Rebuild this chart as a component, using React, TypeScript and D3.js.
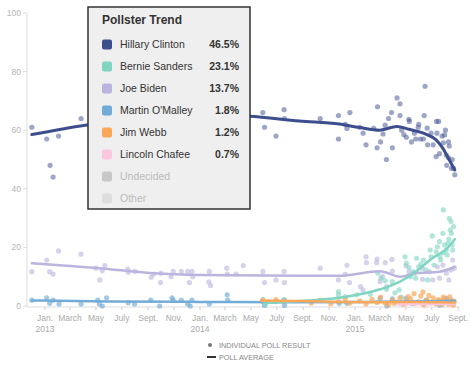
import * as d3 from 'd3';

const width = 470;
const height = 365;

type Pt = [string, number];

// legend rows
const candidates = ['Hillary Clinton', 'Bernie Sanders', 'Joe Biden', "Martin O'Malley", 'Jim Webb', 'Lincoln Chafee', 'Undecided', 'Other'];
const shares = ['46.5%', '23.1%', '13.7%', '1.8%', '1.2%', '0.7%', '', ''];
const colors = ['#3c4e8d', '#7fd5c1', '#bab4de', '#72abd6', '#f9a85a', '#fbc7df', '#c8c8c8', '#dedede'];

const monthLabels = ['Jan.', 'March', 'May', 'July', 'Sept.', 'Nov.'];
const yearLabels = ['2013', '2014', '2015'];
const yTicks = [0, 20, 40, 60, 80, 100];

const clintonPolls: Pt[] = [
  ['2012-12-01', 61], ['2013-01-05', 57], ['2013-01-13', 48], ['2013-01-20', 44], ['2013-02-02', 58],
  ['2013-03-27', 64], ['2014-05-29', 66], ['2014-06-02', 61], ['2014-06-29', 58], ['2014-07-18', 67],
  ['2014-07-19', 64], ['2014-10-11', 64], ['2014-11-23', 65], ['2014-11-23', 57], ['2014-12-09', 62],
  ['2014-12-13', 60.6], ['2014-12-20', 66], ['2015-01-12', 61], ['2015-01-20', 59], ['2015-01-27', 55],
  ['2015-02-14', 60.6], ['2015-02-22', 54], ['2015-02-23', 68], ['2015-03-02', 56], ['2015-03-08', 58.7],
  ['2015-03-13', 61.7], ['2015-03-16', 50], ['2015-03-21', 64], ['2015-03-28', 66], ['2015-03-30', 54],
  ['2015-04-10', 71], ['2015-04-17', 69], ['2015-04-17', 65], ['2015-04-21', 60], ['2015-04-26', 58.5],
  ['2015-05-02', 57.6], ['2015-05-08', 63.7], ['2015-05-09', 63], ['2015-05-14', 56], ['2015-05-21', 59],
  ['2015-05-24', 57], ['2015-05-30', 61], ['2015-05-31', 62], ['2015-06-04', 57], ['2015-06-11', 57],
  ['2015-06-13', 65], ['2015-06-15', 75], ['2015-06-20', 60.7], ['2015-06-21', 55], ['2015-06-29', 59],
  ['2015-07-04', 55], ['2015-07-11', 51], ['2015-07-12', 63], ['2015-07-13', 59], ['2015-07-17', 63],
  ['2015-07-19', 52], ['2015-07-25', 58], ['2015-07-28', 55.7], ['2015-07-31', 58.4], ['2015-08-02', 60],
  ['2015-08-04', 51.5], ['2015-08-05', 48], ['2015-08-09', 56], ['2015-08-09', 50.6], ['2015-08-11', 54.6],
  ['2015-08-16', 47], ['2015-08-18', 50], ['2015-08-21', 47], ['2015-08-24', 44.8],
];
const clintonTrend: Pt[] = [
  ['2012-12-01', 58.5], ['2013-04-10', 61.8], ['2013-08-01', 63.5], ['2014-01-01', 65.2], ['2014-04-27', 64.8],
  ['2014-08-23', 63.1], ['2014-11-25', 62.1], ['2015-01-12', 60.9], ['2015-02-28', 60], ['2015-04-10', 61.3],
  ['2015-05-08', 60.3], ['2015-06-18', 58.6], ['2015-07-11', 56.7], ['2015-07-27', 53.8], ['2015-08-09', 50.4],
  ['2015-08-24', 46.4],
];

const sandersPolls: Pt[] = [
  ['2014-05-29', 2.3], ['2014-06-04', 0.5], ['2014-07-18', 2.2], ['2014-11-23', 4.9], ['2014-11-23', 3.8],
  ['2014-12-09', 3.2], ['2015-01-05', 3.8], ['2015-02-06', 4], ['2015-02-24', 11.2], ['2015-03-03', 9.5],
  ['2015-03-13', 8.6], ['2015-03-16', 5.7], ['2015-03-30', 8.3], ['2015-04-05', 4.5], ['2015-04-15', 5.5],
  ['2015-04-20', 3], ['2015-04-29', 16.8], ['2015-05-02', 14.6], ['2015-05-08', 13.1], ['2015-05-12', 10],
  ['2015-05-18', 11.7], ['2015-05-24', 9.5], ['2015-05-26', 16.3], ['2015-05-31', 13.4], ['2015-06-05', 14.3],
  ['2015-06-11', 15.7], ['2015-06-17', 12.3], ['2015-06-21', 8.9], ['2015-06-27', 19.1], ['2015-06-29', 16.8],
  ['2015-07-02', 23.9], ['2015-07-06', 14], ['2015-07-11', 18.5], ['2015-07-14', 20.2], ['2015-07-19', 22],
  ['2015-07-20', 16.8], ['2015-07-22', 15.7], ['2015-07-27', 24.8], ['2015-07-28', 32.8], ['2015-07-28', 18.2],
  ['2015-07-31', 20.8], ['2015-08-04', 19.1], ['2015-08-06', 17.4], ['2015-08-08', 21.4], ['2015-08-10', 22.8],
  ['2015-08-11', 29.9], ['2015-08-13', 25.9], ['2015-08-15', 28.8], ['2015-08-16', 24.8], ['2015-08-18', 20.8],
  ['2015-08-19', 19.1], ['2015-08-21', 27.1],
];
const sandersTrend: Pt[] = [
  ['2014-06-01', 1.0], ['2014-08-23', 1.7], ['2014-11-25', 2.8], ['2015-03-01', 5.7], ['2015-04-17', 8.3],
  ['2015-05-24', 11.7], ['2015-07-02', 16.3], ['2015-08-04', 19.4], ['2015-08-24', 22.8],
];

const bidenPolls: Pt[] = [
  ['2012-12-01', 11.7], ['2013-01-05', 15.7], ['2013-01-12', 11.7], ['2013-01-20', 10.9], ['2013-02-02', 18.8],
  ['2013-03-27', 17.7], ['2013-05-01', 12.9], ['2013-05-10', 8.9], ['2013-05-16', 12], ['2013-05-22', 13.8],
  ['2013-07-15', 12.6], ['2013-07-16', 11.5], ['2013-08-01', 11.8], ['2013-09-08', 9.8], ['2013-09-14', 10.9],
  ['2013-09-30', 8], ['2013-10-01', 11.2], ['2013-10-25', 10], ['2013-10-30', 11.8], ['2013-11-18', 11.8],
  ['2013-12-03', 11.8], ['2013-12-07', 8], ['2013-12-13', 11.8], ['2013-12-15', 10], ['2014-01-22', 8.2],
  ['2014-01-23', 11.8], ['2014-01-26', 7], ['2014-03-05', 12.9], ['2014-03-06', 10.9], ['2014-03-27', 10.9],
  ['2014-04-13', 13.8], ['2014-05-29', 11.8], ['2014-06-02', 8], ['2014-06-29', 8.9], ['2014-07-18', 11.8],
  ['2014-07-19', 8], ['2014-10-11', 12.9], ['2014-11-23', 8.9], ['2014-12-09', 10.8], ['2014-12-13', 13.9],
  ['2014-12-19', 8], ['2015-01-14', 6.6], ['2015-01-20', 5.5], ['2015-01-27', 16.8], ['2015-01-28', 14.8],
  ['2015-02-21', 14.8], ['2015-02-22', 16], ['2015-03-01', 8.3], ['2015-03-07', 10], ['2015-03-13', 14.8],
  ['2015-03-16', 6.6], ['2015-03-29', 15.9], ['2015-03-30', 11.9], ['2015-05-01', 13.7], ['2015-05-08', 11.7],
  ['2015-05-20', 11.2], ['2015-06-08', 12.9], ['2015-06-09', 9.1], ['2015-06-25', 11.7], ['2015-07-03', 8.9],
  ['2015-07-14', 13.4], ['2015-07-19', 9.5], ['2015-07-27', 14], ['2015-08-04', 11.2], ['2015-08-10', 8.9],
  ['2015-08-15', 12.3], ['2015-08-19', 15.7], ['2015-08-23', 12.9],
];
const bidenTrend: Pt[] = [
  ['2012-12-01', 14.6], ['2013-05-08', 12.9], ['2013-09-12', 11.2], ['2014-01-01', 10.6], ['2014-08-23', 10.3],
  ['2014-11-25', 10.3], ['2015-03-01', 11.9], ['2015-04-17', 10], ['2015-05-24', 11.2], ['2015-07-19', 11.7],
  ['2015-08-24', 13.4],
];

const omalleyPolls: Pt[] = [
  ['2012-12-01', 2], ['2013-01-05', 2.8], ['2013-01-12', 0.9], ['2013-01-20', 2], ['2013-02-03', 0.7],
  ['2013-03-27', 0.7], ['2013-05-05', 2], ['2013-05-09', 0.7], ['2013-05-16', 0], ['2013-05-26', 2.8],
  ['2013-07-16', 1.1], ['2013-07-31', 0.7], ['2013-09-07', 2], ['2013-09-28', 0], ['2013-10-27', 2.8],
  ['2013-10-30', 2], ['2013-11-18', 2], ['2013-12-03', 0.7], ['2013-12-09', 0], ['2013-12-13', 2],
  ['2014-01-23', 0.7], ['2014-03-06', 3.8], ['2014-03-07', 2], ['2014-05-29', 1.5], ['2014-06-02', 0.2],
  ['2014-06-29', 1.5], ['2014-07-18', 2], ['2014-07-19', 0.2], ['2014-11-25', 0.9], ['2014-12-13', 0.9],
  ['2015-03-01', 2.6], ['2015-03-17', 0], ['2015-03-30', 2.4], ['2015-05-01', 2.6], ['2015-05-15', 0.9],
  ['2015-06-17', 2], ['2015-07-19', 0.3], ['2015-08-04', 2.6], ['2015-08-19', 1.5],
];
const omalleyTrend: Pt[] = [
  ['2012-12-01', 1.9], ['2013-06-01', 1.5], ['2014-01-01', 1.4], ['2014-08-01', 1.3], ['2015-02-01', 1.4],
  ['2015-06-01', 1.6], ['2015-08-24', 1.8],
];

const webbPolls: Pt[] = [
  ['2014-05-29', 2.0], ['2014-06-10', 1.5], ['2014-06-29', 2.2], ['2014-07-18', 1.6], ['2014-09-20', 1.0],
  ['2014-10-11', 2.0], ['2014-11-05', 0.8], ['2014-11-23', 1.5], ['2014-12-09', 2.5], ['2014-12-20', 1.0],
  ['2015-01-12', 1.8], ['2015-01-27', 0.7], ['2015-02-10', 2.3], ['2015-02-22', 1.2], ['2015-03-02', 3.0],
  ['2015-03-13', 1.0], ['2015-03-21', 0.4], ['2015-03-30', 2.0], ['2015-04-10', 1.3], ['2015-04-17', 2.8],
  ['2015-04-26', 0.6], ['2015-05-02', 1.7], ['2015-05-12', 2.4], ['2015-05-20', 4.2], ['2015-05-22', 0.9],
  ['2015-05-31', 1.4], ['2015-06-05', 3.4], ['2015-06-10', 4.8], ['2015-06-11', 0.5], ['2015-06-20', 2.0],
  ['2015-06-29', 1.1], ['2015-07-04', 2.8], ['2015-07-11', 0.8], ['2015-07-19', 1.9], ['2015-07-25', 0.4],
  ['2015-07-31', 2.4], ['2015-08-05', 1.3], ['2015-08-10', 0.7], ['2015-08-15', 2.1], ['2015-08-19', 1.0],
  ['2015-08-23', 1.6], ['2015-04-03', 0.9], ['2015-05-06', 3.2], ['2015-06-24', 3.6], ['2015-07-15', 2.2],
  ['2015-07-28', 3.0], ['2015-08-12', 3.1], ['2015-08-21', 0.3],
];
const webbTrend: Pt[] = [
  ['2014-05-25', 1.8], ['2014-08-23', 1.7], ['2014-12-01', 1.4], ['2015-03-01', 1.3], ['2015-06-01', 1.4],
  ['2015-08-24', 1.2],
];

const chafeePolls: Pt[] = [
  ['2015-04-20', 0.5], ['2015-05-20', 1], ['2015-06-15', 0], ['2015-07-10', 1], ['2015-08-10', 0.5],
];
const chafeeTrend: Pt[] = [['2015-04-10', 0.6], ['2015-06-15', 0.7], ['2015-08-24', 0.7]];

const parse = d3.timeParse('%Y-%m-%d');
const font = '"Liberation Sans", Arial, sans-serif';

export default function App() {
  const x = d3.scaleTime()
    .domain([new Date(2013, 0, 1), new Date(2015, 0, 1)])
    .range([45, 355]);
  const y = d3.scaleLinear([0, 100], [306, 13]);

  const trendLine = d3.line<Pt>()
    .x((d) => x(parse(d[0])!))
    .y((d) => y(d[1]))
    .curve(d3.curveMonotoneX);

  const series = [
    { polls: chafeePolls, trend: chafeeTrend, color: colors[5], w: 2.5, op: 0.55 },
    { polls: omalleyPolls, trend: omalleyTrend, color: colors[3], w: 2.5, op: 0.65 },
    { polls: bidenPolls, trend: bidenTrend, color: colors[2], w: 2.5, op: 0.6 },
    { polls: sandersPolls, trend: sandersTrend, color: colors[1], w: 2.5, op: 0.6 },
    { polls: webbPolls, trend: webbTrend, color: colors[4], w: 2.5, op: 0.7 },
    { polls: clintonPolls, trend: clintonTrend, color: colors[0], w: 3, op: 0.5 },
  ];

  const ticks = d3.timeMonth.every(2)!.range(new Date(2013, 0, 1), new Date(2015, 8, 2));

  return (
    <svg width={width} height={height} style={{ position: 'absolute', left: 0, top: 0 }} fontFamily={font}>
      <rect width={width} height={height} fill="#fff" />
      {/* axes */}
      <line x1={27} x2={27} y1={y(100)} y2={y(0) + 1} stroke="#ddd" />
      <line x1={27} x2={460} y1={y(0) + 1} y2={y(0) + 1} stroke="#ddd" />
      {yTicks.map((t) => (
        <g key={t}>
          <line x1={23} x2={27} y1={y(t)} y2={y(t)} stroke="#ddd" />
          <text x={21} y={y(t) + 3} fontSize={8.5} fill="#b5b5b5" textAnchor="end">{t}</text>
        </g>
      ))}
      {ticks.map((d, i) => (
        <g key={i}>
          <line x1={x(d)} x2={x(d)} y1={y(0) + 1} y2={y(0) + 4} stroke="#ccc" />
          <text x={x(d)} y={321} fontSize={8.5} fill="#aaa" textAnchor="middle">{monthLabels[d.getMonth() / 2]}</text>
          {d.getMonth() === 0 && (
            <text x={x(d)} y={332} fontSize={8.5} fill="#aaa" textAnchor="middle">
              {yearLabels[d.getFullYear() - 2013]}
            </text>
          )}
        </g>
      ))}

      {/* polls and averages */}
      {series.map((s, i) => (
        <g key={i}>
          {s.polls.map((p, j) => (
            <circle key={j} cx={x(parse(p[0])!)} cy={y(p[1])} r={2.6} fill={s.color} opacity={s.op} />
          ))}
        </g>
      ))}
      {series.map((s, i) => (
        <path key={i} d={trendLine(s.trend) ?? ''} fill="none" stroke={s.color} strokeWidth={s.w} strokeLinecap="round" />
      ))}

      {/* trend legend box */}
      <rect x={88} y={7} width={162} height={202} fill="#efefef" stroke="#333" strokeWidth={1.5} />
      <text x={102} y={24} fontSize={12} fontWeight="bold" fill="#333">Pollster Trend</text>
      {candidates.map((c, i) => {
        const cy = 44.5 + i * 22;
        const faded = i >= 6;
        return (
          <g key={c}>
            <rect x={102} y={cy - 5} width={10} height={10} rx={2} fill={colors[i]} />
            <text x={120} y={cy + 3.8} fontSize={10.5} fill={faded ? '#bbb' : '#333'}>{c}</text>
            <text x={239} y={cy + 3.8} fontSize={10.5} fontWeight="bold" fill="#333" textAnchor="end">{shares[i]}</text>
          </g>
        );
      })}

      {/* key */}
      <circle cx={210} cy={345} r={2} fill="#777" />
      <text x={219} y={347.5} fontSize={7.3} fill="#888">INDIVIDUAL POLL RESULT</text>
      <line x1={207} x2={216} y1={357} y2={357} stroke="#333" strokeWidth={2} />
      <text x={219} y={359.5} fontSize={7.3} fill="#888">POLL AVERAGE</text>
    </svg>
  );
}
